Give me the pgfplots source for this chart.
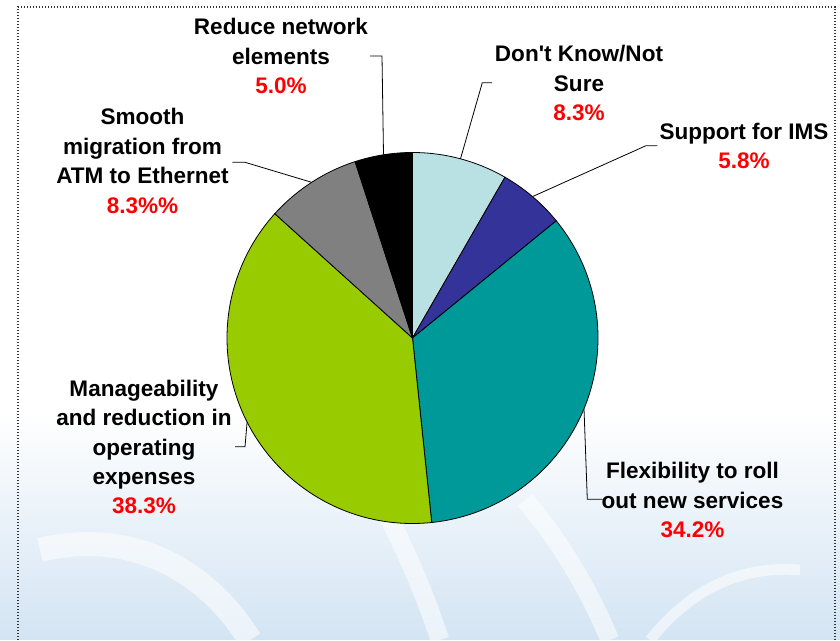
\documentclass[border=0pt]{standalone}
\usepackage{pgfplots}
\pgfplotsset{compat=1.18}
\usepackage{pgfplotstable}
\usepackage{fontspec}
\setmainfont{Liberation Sans}[Ligatures=TeXOff]
\definecolor{dkcol}{HTML}{B9E0E3}
\definecolor{imscol}{HTML}{333399}
\definecolor{flexcol}{HTML}{009999}
\definecolor{mancol}{HTML}{99CC00}
\definecolor{smcol}{HTML}{808080}
\definecolor{redcol}{HTML}{000000}
\definecolor{pctred}{HTML}{FF0000}
\definecolor{bgblue}{HTML}{D3E4F3}

\pgfplotstableread{
name value col
DontKnow 8.3 dkcol
IMS 5.8 imscol
Flexibility 34.2 flexcol
Manageability 38.3 mancol
Smooth 8.3 smcol
Reduce 5.0 redcol
}\piedata

\xdef\pietotal{0}
\pgfplotstableforeachcolumnelement{value}\of\piedata\as\v{%
  \pgfmathsetmacro\tmp{\pietotal+\v}\xdef\pietotal{\tmp}}

\tikzset{lab/.style={align=center, font=\fontsize{16.9}{22.1}\selectfont\bfseries, inner sep=0pt, text=black},
         lead/.style={draw=black, line width=0.6pt}}

\begin{document}
\begin{tikzpicture}
\begin{axis}[
  width=630pt, height=480pt, scale only axis,
  xmin=0, xmax=840, ymin=0, ymax=640,
  hide axis, clip=false,
]
% background wash
\fill[top color=white, bottom color=bgblue, draw=none] (axis cs:0,0) rectangle (axis cs:840,230);
\draw[white, line width=18pt, opacity=0.55] (axis cs:250,0) .. controls (axis cs:200,80) and (axis cs:120,110) .. (axis cs:40,90);
\draw[white, line width=14pt, opacity=0.55] (axis cs:440,0) .. controls (axis cs:420,60) and (axis cs:400,100) .. (axis cs:385,130);
\draw[white, line width=14pt, opacity=0.55] (axis cs:610,0) .. controls (axis cs:580,70) and (axis cs:550,110) .. (axis cs:525,140);
\draw[white, line width=8pt, opacity=0.55] (axis cs:650,0) .. controls (axis cs:690,50) and (axis cs:740,75) .. (axis cs:800,70);
% border
\draw[black!80, line width=0.9pt, dash pattern=on 0.8pt off 1.45pt] (axis cs:18,0) -- (axis cs:18,633) -- (axis cs:835,633) -- (axis cs:835,0);
% pie slices from data
\xdef\startang{90}
\pgfplotsforeachungrouped \i in {0,...,5}{%
  \pgfplotstablegetelem{\i}{value}\of\piedata
  \pgfmathsetmacro\endang{\startang-\pgfplotsretval/\pietotal*360}%
  \pgfplotstablegetelem{\i}{col}\of\piedata
  \edef\doslice{\noexpand\fill[fill=\pgfplotsretval, draw=black, line width=0.6pt] (axis cs:412.5,302) -- (axis cs:{412.5+185.5*cos(\startang)},{302+185.5*sin(\startang)}) arc[start angle=\startang, end angle=\endang, radius=139.125pt] -- cycle;}%
  \doslice
  \xdef\startang{\endang}%
}
% leader lines
\draw[lead] (axis cs:370,584) -- (axis cs:382,584) -- (axis cs:383.5,485.5);
\draw[lead] (axis cs:492,557.3) -- (axis cs:482.3,557.3) -- (axis cs:460.5,481.2);
\draw[lead] (axis cs:657.3,494.3) -- (axis cs:646,494.3) -- (axis cs:532.5,443.4);
\draw[lead] (axis cs:232.3,477.7) -- (axis cs:245,477.7) -- (axis cs:311.6,457.7);
\draw[lead] (axis cs:235,193.3) -- (axis cs:245,193.3) -- (axis cs:247.1,218);
\draw[lead] (axis cs:602.7,140.7) -- (axis cs:587.3,140.7) -- (axis cs:584,231.3);
% labels
\node[lab] at (axis cs:281,584) {Reduce network\\elements\\\textcolor{pctred}{5.0\%}};
\node[lab] at (axis cs:579,557) {Don't Know/Not\\Sure\\\textcolor{pctred}{8.3\%}};
\node[lab] at (axis cs:744,494) {Support for IMS\\\textcolor{pctred}{5.8\%}};
\node[lab] at (axis cs:142.5,479) {Smooth\\migration from\\ATM to Ethernet\\\textcolor{pctred}{8.3\%\%}};
\node[lab] at (axis cs:144,193) {Manageability\\and reduction in\\operating\\expenses\\\textcolor{pctred}{38.3\%}};
\node[lab] at (axis cs:692.5,140) {Flexibility to roll\\out new services\\\textcolor{pctred}{34.2\%}};
\end{axis}
\pgfresetboundingbox
\path[use as bounding box] (current axis.south west) rectangle (current axis.north east);
\end{tikzpicture}
\end{document}
